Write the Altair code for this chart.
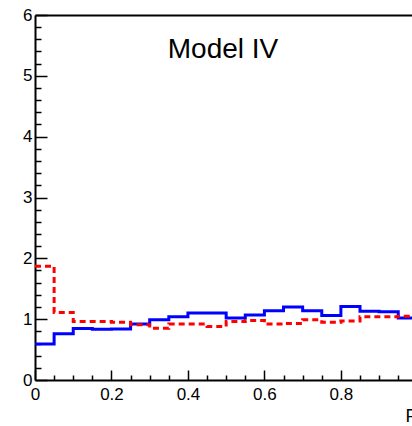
import altair as alt
import numpy as np
import pandas as pd

# ---- data ----
bin_edges = [0.00, 0.05, 0.10, 0.15, 0.20, 0.25, 0.30, 0.35, 0.40, 0.45,
             0.50, 0.55, 0.60, 0.65, 0.70, 0.75, 0.80, 0.85, 0.90, 0.95, 1.00]
blue_vals = [0.59, 0.76, 0.845, 0.835, 0.84, 0.92, 0.99, 1.04, 1.10, 1.10,
             1.02, 1.07, 1.14, 1.20, 1.14, 1.06, 1.21, 1.13, 1.12, 1.02]
red_vals = [1.87, 1.11, 0.96, 0.96, 0.95, 0.91, 0.85, 0.92, 0.92, 0.88,
            0.96, 0.98, 0.92, 0.93, 0.99, 0.95, 0.97, 1.04, 1.04, 1.05]
title_text = ["Model IV"]
x_axis_title = "P"
x_major = [0, 0.2, 0.4, 0.6, 0.8]
x_minor = [0.05, 0.1, 0.15, 0.25, 0.3, 0.35, 0.45, 0.5, 0.55, 0.65, 0.7, 0.75, 0.85, 0.9, 0.95]
y_major = [0, 1, 2, 3, 4, 5, 6]
y_minor = [0.2, 0.4, 0.6, 0.8, 1.2, 1.4, 1.6, 1.8, 2.2, 2.4, 2.6, 2.8, 3.2, 3.4, 3.6, 3.8,
           4.2, 4.4, 4.6, 4.8, 5.2, 5.4, 5.6, 5.8]


def step_frame(vals):
    return pd.DataFrame({"x": bin_edges, "v": list(vals) + [vals[-1]]})


blue_df = step_frame(blue_vals)
red_df = step_frame(red_vals)

W, H = 377, 365
FONT = "Liberation Sans"
xscale = alt.Scale(domain=[0, 0.986], nice=False, zero=False)
yscale = alt.Scale(domain=[0, 6], nice=False, zero=False)


def xax(**kw):
    base = dict(grid=False, title=None)
    base.update(kw)
    return alt.Axis(**base)


# red dashed line with the labelled axes
red = alt.Chart(red_df).mark_line(
    interpolate="step-after", color="#ff0000", strokeWidth=3,
    strokeDash=[6, 4], clip=True
).encode(
    x=alt.X("x:Q", scale=xscale, axis=xax(
        orient="bottom", values=x_major, ticks=False, domain=True,
        domainColor="#000000", domainWidth=2, labelFont=FONT, labelFontSize=17,
        labelColor="#000000", labelPadding=6, labelFlush=False, labelOverlap=False,
        format=".1~f", title=x_axis_title, titleFont=FONT, titleFontSize=18,
        titleFontWeight="normal", titleColor="#000000", titleAlign="left",
        titleAnchor="start", titleX=370, titleY=27, titleBaseline="top")),
    y=alt.Y("v:Q", scale=yscale, axis=xax(
        orient="left", values=y_major, ticks=False, domain=True,
        domainColor="#000000", domainWidth=2, labelFont=FONT, labelFontSize=17,
        labelColor="#000000", labelPadding=3, labelFlush=False, labelOverlap=False,
        format="d")),
)

# blue solid line with the major inward ticks
blue = alt.Chart(blue_df).mark_line(
    interpolate="step-after", color="#0000ff", strokeWidth=3, clip=True
).encode(
    x=alt.X("x:Q", scale=xscale, axis=xax(
        orient="top", offset=-H, values=x_major, ticks=True, tickSize=10,
        tickColor="#000000", tickWidth=1.5, labels=False, domain=False)),
    y=alt.Y("v:Q", scale=yscale, axis=xax(
        orient="right", offset=-W, values=y_major, ticks=True, tickSize=12,
        tickColor="#000000", tickWidth=1.5, labels=False, domain=False)),
)

# invisible layer carrying the minor inward ticks
minor = alt.Chart(blue_df).mark_line(opacity=0).encode(
    x=alt.X("x:Q", scale=xscale, axis=xax(
        orient="top", offset=-H, values=x_minor, ticks=True, tickSize=5,
        tickColor="#000000", tickWidth=1.5, labels=False, domain=False)),
    y=alt.Y("v:Q", scale=yscale, axis=xax(
        orient="right", offset=-W, values=y_minor, ticks=True, tickSize=6,
        tickColor="#000000", tickWidth=1.5, labels=False, domain=False)),
)

# invisible layer carrying the top frame line
frame = alt.Chart(blue_df).mark_line(opacity=0).encode(
    x=alt.X("x:Q", scale=xscale, axis=xax(
        orient="top", ticks=False, labels=False, domain=True,
        domainColor="#000000", domainWidth=2)),
    y=alt.Y("v:Q", scale=yscale, axis=None),
)

title = alt.Chart(pd.DataFrame({"t": title_text})).mark_text(
    font=FONT, fontSize=28, color="#000000", align="center", baseline="alphabetic"
).encode(text="t:N", x=alt.value(188), y=alt.value(43))

chart = alt.layer(frame, minor, blue, red, title).resolve_axis(
    x="independent", y="independent"
).properties(
    width=W, height=H,
    autosize=alt.AutoSizeParams(type="none"),
    padding={"left": 35, "top": 15, "right": 0, "bottom": 46},
).configure_view(stroke=None).configure(background="#ffffff")

chart.save("out.html", embed_options={"renderer": "svg", "actions": False})
